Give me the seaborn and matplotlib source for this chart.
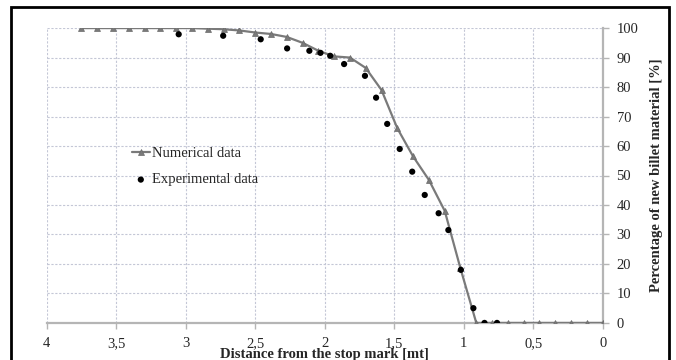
import numpy as np
import pandas as pd
import seaborn as sns
import matplotlib.pyplot as plt
from matplotlib.ticker import FuncFormatter, MultipleLocator
from matplotlib.patches import Rectangle

# numerical model (markers every ~0.114 m)
num_x = [3.750, 3.636, 3.523, 3.409, 3.295, 3.182, 3.068, 2.955, 2.841, 2.727,
         2.614, 2.500, 2.386, 2.273, 2.159, 2.045, 1.932, 1.818, 1.705, 1.591,
         1.477, 1.364, 1.250, 1.136, 1.023, 0.909, 0.795, 0.682, 0.568, 0.455,
         0.341, 0.227, 0.114, 0.000]
num_y = [100, 100, 100, 100, 100, 100, 100, 100, 99.8, 99.6,
         99.2, 98.5, 98, 97, 95, 92.3, 90.4, 90, 86.5, 79,
         66, 56.5, 48.5, 38, 18.5, 0, 0, 0, 0, 0,
         0, 0, 0, 0]

# experimental measurements
exp_x = [3.05, 2.73, 2.46, 2.27, 2.11, 2.03, 1.96, 1.86, 1.71, 1.63,
         1.55, 1.46, 1.37, 1.28, 1.18, 1.11, 1.02, 0.93, 0.85, 0.76]
exp_y = [97.9, 97.4, 96.2, 93.1, 92.3, 91.6, 90.6, 87.8, 83.8, 76.4,
         67.5, 59, 51.3, 43.4, 37.2, 31.5, 18, 5, 0, 0]

df_num = pd.DataFrame({"x": num_x, "y": num_y})
df_exp = pd.DataFrame({"x": exp_x, "y": exp_y})

sns.set_style("white")
plt.rcParams['font.family'] = ['Liberation Serif', 'DejaVu Serif']

fig = plt.figure(figsize=(6.76, 3.6), dpi=100)
ax = fig.add_axes([0.069, 0.103, 0.8225, 0.819])

sns.lineplot(data=df_num, x="x", y="y", ax=ax, color="#7a7a7a", linewidth=1.6,
             marker="^", markersize=4.5, markeredgewidth=0.5, markeredgecolor="#6a6a6a",
             sort=False, label="Numerical data", zorder=3)
sns.scatterplot(data=df_exp, x="x", y="y", ax=ax, color="black", s=20,
                edgecolor="none", label="Experimental data", zorder=4)

ax.set_xlim(4, 0)
ax.set_ylim(0, 100)
ax.xaxis.set_major_locator(MultipleLocator(0.5))
ax.yaxis.set_major_locator(MultipleLocator(10))
ax.xaxis.set_major_formatter(FuncFormatter(lambda v, p: f"{v:g}".replace(".", ",")))
ax.yaxis.tick_right()
ax.yaxis.set_label_position("right")

ax.grid(True, color="#c4c7d6", linestyle=(0, (2, 1.5)), linewidth=0.8)
for s in ["left", "top"]:
    ax.spines[s].set_visible(False)
for s in ["bottom", "right"]:
    ax.spines[s].set_color("#b5b5b5")
    ax.spines[s].set_linewidth(1.6)
ax.tick_params(axis="both", which="both", direction="out", length=4, width=1,
               color="#b5b5b5", labelsize=10.5, pad=6)
ax.tick_params(axis="x", bottom=True)
ax.tick_params(axis="y", right=True)

ax.set_xlabel("Distance from the stop mark [mt]", fontsize=10.5, fontweight="bold", labelpad=-1)
ax.set_ylabel("Percentage of new billet material [%]", fontsize=10.5, fontweight="bold", labelpad=8)

ax.legend(loc="center left", bbox_to_anchor=(0.13, 0.53), frameon=False,
          fontsize=10.5, handlelength=1.2, handletextpad=0.2, labelspacing=0.9)

fig.patches.append(Rectangle((11 / 676, -0.05), 658 / 676, 1.03, transform=fig.transFigure,
                             fill=False, edgecolor="black", linewidth=2))

fig.savefig("out.png", dpi=100)
plt.close()
